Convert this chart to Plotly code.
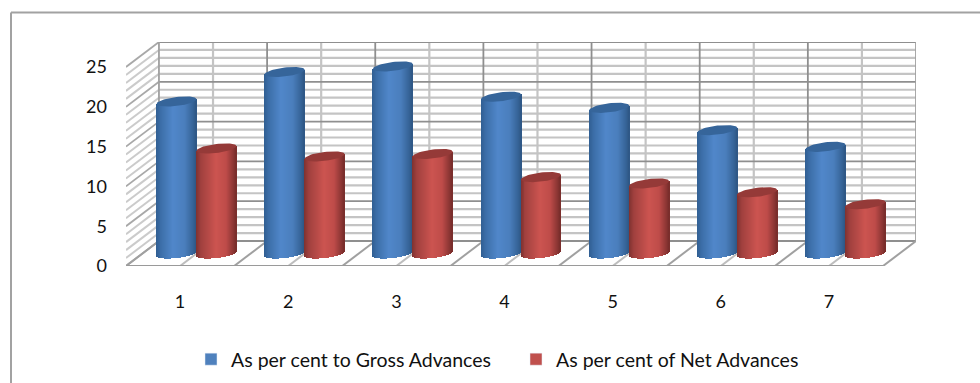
import numpy as np
import plotly.graph_objects as go

# Bank advances ratios by group
categories = [1, 2, 3, 4, 5, 6, 7]
gross_advances = [19.1, 22.8, 23.5, 19.7, 18.3, 15.5, 13.4]
net_advances = [13.2, 12.2, 12.5, 9.6, 8.8, 7.7, 6.2]
value_ticks = [0, 5, 10, 15, 20, 25]
series_names = ["As per cent to Gross Advances", "As per cent of Net Advances"]

# Canvas and oblique projection set-up, all in pixels of the page
W, H = 980, 383
LEFT, RIGHT_EDGE, TOP, BOTTOM = 126, 916, 42, 266
PX_X = 108.3
PX_Y = 7.96
DX = 33 / PX_X          # depth of the box along the category axis
DY = 25 / PX_Y          # depth of the box along the value axis
X0, X1 = 0.5, 7.5
VMAX = 25

CYL_W = 40 / PX_X       # cylinder diameter
CAP_A = 4.5 / PX_Y      # ellipse half height
CAP_S = 2.3 / PX_Y      # ellipse tilt


def lerp_shade(stops, t):
    pos = [s[0] for s in stops]
    rgb = [np.interp(t, pos, [s[1][i] for s in stops]) for i in range(3)]
    return "rgb(%d,%d,%d)" % tuple(int(round(c)) for c in rgb)


BLUE_SHADE = [(0, (48, 94, 146)), (0.12, (60, 110, 168)), (0.42, (80, 135, 202)),
              (0.72, (74, 126, 188)), (0.92, (54, 100, 152)), (1, (46, 86, 132))]
RED_SHADE = [(0, (126, 50, 48)), (0.12, (160, 64, 62)), (0.5, (204, 84, 80)),
             (0.75, (190, 76, 73)), (0.93, (140, 54, 52)), (1, (118, 44, 42))]
CAP_COLORS = ["#36659a", "#953a38"]

line = lambda x0, y0, x1, y1, color, width: dict(
    type="line", xref="x", yref="y", x0=x0, y0=y0, x1=x1, y1=y1,
    line=dict(color=color, width=width), layer="below")

MAJOR, MINOR, HATCH = "#8f8f8f", "#c4c4c4", "#cbcbcb"
shapes = []

# Minor grid first so that the major lines sit on top
for v in range(0, VMAX + 1):
    if v % 5:
        shapes.append(line(X0 + DX, v + DY, X1 + DX, v + DY, MINOR, 2.2))
        shapes.append(line(X0, v, X0 + DX, v + DY, HATCH, 2))
for k in range(0, 15):
    x = X0 + k * 0.5
    if k % 2:
        shapes.append(line(x + DX, DY, x + DX, VMAX + DY, MINOR, 2.2))
        shapes.append(line(x, 0, x + DX, DY, "#bdbdbd", 2))
for v in value_ticks:
    shapes.append(line(X0 + DX, v + DY, X1 + DX, v + DY, MAJOR, 1.8))
    shapes.append(line(X0, v, X0 + DX, v + DY, "#a8a8a8", 1.8))
for k in range(0, 8):
    x = X0 + k
    shapes.append(line(x + DX, DY, x + DX, VMAX + DY, MAJOR if 0 < k < 7 else "#a0a0a0", 1.8))
    shapes.append(line(x, 0, x + DX, DY, "#a0a0a0", 2))
shapes.append(line(X0, 0, X1, 0, "#9a9a9a", 2))

# Frame of the chart: the top and left edges are the only ones in view
frame = dict(color="#a2a2a2", width=2)
shapes.append(dict(type="line", xref="paper", yref="paper", layer="below", line=frame,
                   x0=(11 - LEFT) / (RIGHT_EDGE - LEFT), x1=(W - LEFT) / (RIGHT_EDGE - LEFT),
                   y0=(BOTTOM - 12.5) / (BOTTOM - TOP), y1=(BOTTOM - 12.5) / (BOTTOM - TOP)))
shapes.append(dict(type="line", xref="paper", yref="paper", layer="below", line=frame,
                   x0=(11 - LEFT) / (RIGHT_EDGE - LEFT), x1=(11 - LEFT) / (RIGHT_EDGE - LEFT),
                   y0=(BOTTOM - 12.5) / (BOTTOM - TOP), y1=(BOTTOM - H) / (BOTTOM - TOP)))

fig = go.Figure()

# Each cylinder body is a fan of narrow bars, shaded across its width
N_STRIPS = 40
strip_w = CYL_W / N_STRIPS
mid_x = DX / 2
mid_y = DY / 2
series = [gross_advances, net_advances]
shifts = [-CYL_W / 2, CYL_W / 2]
shades = [BLUE_SHADE, RED_SHADE]
for s, values in enumerate(series):
    for i in range(N_STRIPS):
        t = (i + 0.5) / N_STRIPS
        u = 2 * t - 1
        arc = CAP_A * np.sqrt(1 - u * u)
        tilt = CAP_S * u
        base = mid_y - arc + tilt
        tops = [v + mid_y + tilt for v in values]
        fig.add_bar(
            x=categories,
            y=[tp - base for tp in tops],
            base=[base] * len(values),
            offset=mid_x + shifts[s] - CYL_W / 2 + i * strip_w,
            width=strip_w * 1.4,
            marker=dict(color=lerp_shade(shades[s], t), line=dict(width=0)),
            name=series_names[s],
            legendgroup=series_names[s],
            showlegend=False,
            hoverinfo="skip",
        )

# Elliptical tops of the cylinders
theta = np.linspace(0, 2 * np.pi, 61)
for s, values in enumerate(series):
    xs, ys = [], []
    for c, v in zip(categories, values):
        cx = c + mid_x + shifts[s]
        xs += list(cx + CYL_W / 2 * np.cos(theta)) + [None]
        ys += list(v + mid_y + CAP_A * np.sin(theta) + CAP_S * np.cos(theta)) + [None]
    fig.add_scatter(x=xs, y=ys, mode="lines", fill="toself", fillcolor=CAP_COLORS[s],
                    line=dict(width=0, color=CAP_COLORS[s]), showlegend=False, hoverinfo="skip")

# Legend keys
for name, color in zip(series_names, ["#4f81bd", "#c0504d"]):
    fig.add_bar(x=[None], y=[None], name=name, marker=dict(color=color), legendgroup=name)

FONT = "Lato, Carlito, sans-serif"
fig.update_layout(
    width=W, height=H,
    margin=dict(l=LEFT, r=W - RIGHT_EDGE, t=TOP, b=H - BOTTOM, pad=0, autoexpand=False),
    paper_bgcolor="white", plot_bgcolor="white",
    barmode="overlay", shapes=shapes, bargap=0,
    font=dict(family=FONT, size=18, color="#111111"),
    showlegend=True,
    legend=dict(orientation="h", x=(200 - LEFT) / (RIGHT_EDGE - LEFT), xanchor="left",
                y=(BOTTOM - 340) / (BOTTOM - TOP), yanchor="top", bgcolor="rgba(0,0,0,0)",
                font=dict(family=FONT, size=19.5, color="#111111"), itemclick=False,
                itemdoubleclick=False, traceorder="normal", indentation=-9,
                entrywidth=289, entrywidthmode="pixels"),
    xaxis=dict(range=[X0, X1 + DX], tickvals=categories, ticktext=[str(c) for c in categories],
               showgrid=False, zeroline=False, showline=False, ticks="", ticklabelstandoff=23),
    yaxis=dict(range=[0, (BOTTOM - TOP) / PX_Y], tickvals=value_ticks, showgrid=False,
               zeroline=False, showline=False, ticks="", ticklabelstandoff=18),
)

fig.write_html("out.html")
